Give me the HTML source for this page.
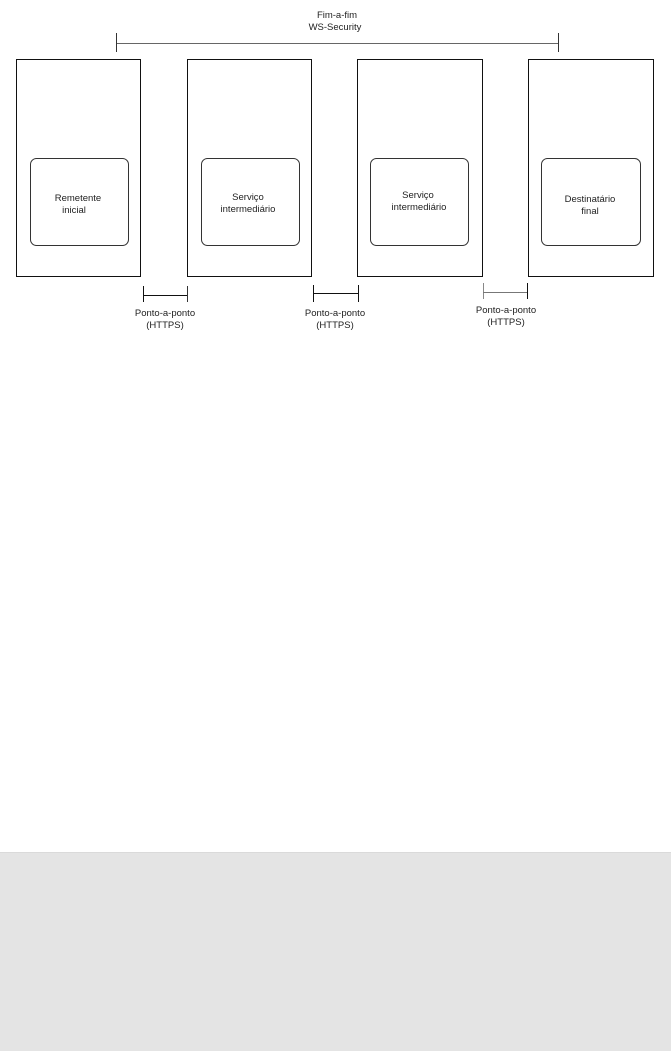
<!DOCTYPE html>
<html><head><meta charset="utf-8"><style>
html,body{margin:0;padding:0;width:671px;height:1051px;background:#fff;overflow:hidden}
svg{display:block}
text{font-family:"Liberation Sans",sans-serif;font-size:9.5px;fill:#222;text-anchor:middle}
</style></head><body>
<svg width="671" height="1051" xmlns="http://www.w3.org/2000/svg">
<rect x="0" y="852" width="671" height="199" fill="#e4e4e4"/>
<line x1="0" y1="852.5" x2="671" y2="852.5" stroke="#dadada"/>
<g stroke="#333" fill="none" stroke-width="1">
<line x1="116" y1="43.5" x2="558" y2="43.5" stroke="#666"/>
<line x1="116.5" y1="33" x2="116.5" y2="52"/>
<line x1="558.5" y1="33" x2="558.5" y2="52"/>
<rect x="16.5" y="59.5" width="124" height="217" stroke="#111"/>
<rect x="187.5" y="59.5" width="124" height="217" stroke="#111"/>
<rect x="357.5" y="59.5" width="125" height="217" stroke="#111"/>
<rect x="528.5" y="59.5" width="125" height="217" stroke="#111"/>
<rect x="30.5" y="158.5" width="98" height="87" rx="6" stroke="#333"/>
<rect x="201.5" y="158.5" width="98" height="87" rx="6" stroke="#333"/>
<rect x="370.5" y="158.5" width="98" height="87" rx="6" stroke="#333"/>
<rect x="541.5" y="158.5" width="99" height="87" rx="6" stroke="#333"/>
<line x1="143.5" y1="286" x2="143.5" y2="302" stroke="#111"/>
<line x1="187.5" y1="286" x2="187.5" y2="302"/>
<line x1="143" y1="295.5" x2="187" y2="295.5" stroke="#111"/>
<line x1="313.5" y1="285" x2="313.5" y2="302" stroke="#111"/>
<line x1="358.5" y1="285" x2="358.5" y2="302" stroke="#111"/>
<line x1="313" y1="293.5" x2="358" y2="293.5" stroke="#111"/>
<line x1="483.5" y1="283" x2="483.5" y2="299" stroke="#888"/>
<line x1="527.5" y1="283" x2="527.5" y2="299" stroke="#111"/>
<line x1="483" y1="292.5" x2="527" y2="292.5" stroke="#777"/>
</g>
<text x="337" y="18">Fim-a-fim</text>
<text x="335" y="30">WS-Security</text>
<text x="78" y="201">Remetente</text>
<text x="74" y="213">inicial</text>
<text x="248" y="200">Serviço</text>
<text x="248" y="212">intermediário</text>
<text x="418" y="198">Serviço</text>
<text x="419" y="210">intermediário</text>
<text x="590" y="202">Destinatário</text>
<text x="590" y="214">final</text>
<text x="165" y="316">Ponto-a-ponto</text>
<text x="165" y="328">(HTTPS)</text>
<text x="335" y="316">Ponto-a-ponto</text>
<text x="335" y="328">(HTTPS)</text>
<text x="506" y="313">Ponto-a-ponto</text>
<text x="506" y="325">(HTTPS)</text>
</svg>
</body></html>
